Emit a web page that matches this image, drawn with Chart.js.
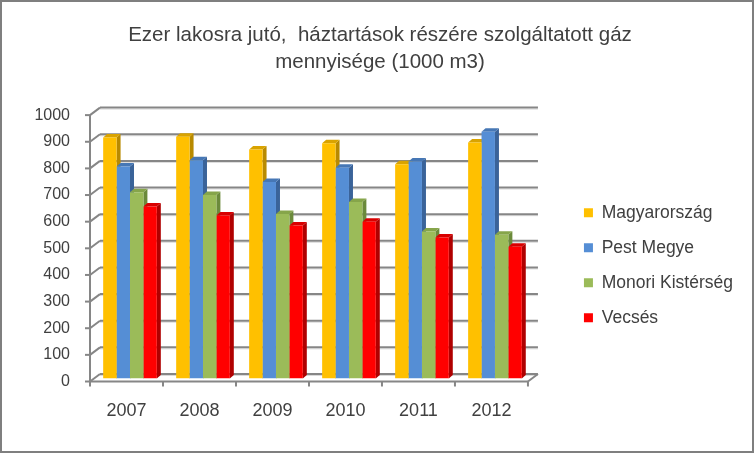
<!DOCTYPE html>
<html>
<head>
<meta charset="utf-8">
<script src="https://cdn.jsdelivr.net/npm/chart.js@4.4.0/dist/chart.umd.min.js"></script>
<style>
  body { margin: 0; background: #fff; }
  #box { width: 754px; height: 453px; box-sizing: border-box; border: 2px solid #7f7f7f; background: #fff; }
  canvas { display: block; }
</style>
</head>
<body>
<div id="box"><canvas id="gas" width="750" height="449"></canvas></div>
<script>
const years = ["2007", "2008", "2009", "2010", "2011", "2012"];
const magyarorszag = [905, 908, 860, 883, 804, 886];
const pestMegye = [796, 819, 738, 791, 815, 926];
const monoriKisterseg = [699, 689, 618, 663, 552, 540];
const vecses = [646, 612, 574, 588, 529, 495];
const seriesNames = ["Magyarország", "Pest Megye", "Monori Kistérség", "Vecsés"];

const frontColors = ["#ffc000", "#558ed5", "#9bbb59", "#ff0000"];
const sideColors = ["#b88a00", "#3a6399", "#6b8a3b", "#b00000"];
const topColors = ["#d9a300", "#4677b5", "#86a54a", "#d80000"];

const font = "'Liberation Sans', Arial, sans-serif";
const textColor = "#404040";
const lineColor = "#868686";

// 3d offsets: front plane (axes), back wall, bar depth
const FRONT_X = -3.5, FRONT_Y = 3;
const BACK_X = 6.5, BACK_Y = -4.5;
const DEPTH_X = 4, DEPTH_Y = 3.5;

function line(ctx, x1, y1, x2, y2) {
  ctx.beginPath();
  ctx.moveTo(x1, y1);
  ctx.lineTo(x2, y2);
  ctx.stroke();
}

function poly(ctx, pts, color) {
  ctx.beginPath();
  ctx.moveTo(pts[0][0], pts[0][1]);
  pts.slice(1).forEach(p => ctx.lineTo(p[0], p[1]));
  ctx.closePath();
  ctx.fillStyle = color;
  ctx.fill();
}

const walls3d = {
  id: "walls3d",
  beforeDatasetsDraw(chart) {
    const ctx = chart.ctx;
    const area = chart.chartArea;
    const y = chart.scales.y;
    const x = chart.scales.x;
    ctx.save();
    ctx.lineCap = "butt";

    const fLeft = area.left + FRONT_X;
    const fRight = area.right + FRONT_X;
    const bLeft = area.left + BACK_X;
    const bRight = area.right + BACK_X;

    // back wall grid lines, with light shadow
    y.ticks.forEach(t => {
      const py = y.getPixelForValue(t.value);
      ctx.strokeStyle = "#dadada";
      ctx.lineWidth = 1;
      line(ctx, bLeft, py + BACK_Y + 1.5, bRight, py + BACK_Y + 1.5);
      ctx.strokeStyle = lineColor;
      ctx.lineWidth = 2;
      line(ctx, bLeft, py + BACK_Y, bRight, py + BACK_Y);
      // diagonal from front axis to the back wall
      line(ctx, fLeft, py + FRONT_Y, bLeft, py + BACK_Y);
      // tick mark
      line(ctx, fLeft - 5, py + FRONT_Y, fLeft, py + FRONT_Y);
    });

    // front axes
    const y0 = y.getPixelForValue(0) + FRONT_Y;
    const yTop = y.getPixelForValue(y.max) + FRONT_Y;
    line(ctx, fLeft, yTop, fLeft, y0 + 1);
    line(ctx, fLeft, y0, fRight, y0);
    line(ctx, fRight, y0, bRight, y0 + BACK_Y - FRONT_Y);
    const catW = (x.right - x.left) / years.length;
    for (let i = 0; i <= years.length; i++) {
      const px = x.left + i * catW + FRONT_X;
      line(ctx, px, y0, px, y0 + 5);
    }

    // side and top faces of the bars
    chart.data.datasets.forEach((ds, i) => {
      chart.getDatasetMeta(i).data.forEach(bar => {
        const l = bar.x - bar.width / 2;
        const r = bar.x + bar.width / 2;
        const top = bar.y;
        const base = bar.base;
        poly(ctx, [[r, top], [r + DEPTH_X, top - DEPTH_Y], [r + DEPTH_X, base - DEPTH_Y], [r, base]], sideColors[i]);
        poly(ctx, [[l, top], [l + DEPTH_X, top - DEPTH_Y], [r + DEPTH_X, top - DEPTH_Y], [r, top]], topColors[i]);
      });
    });
    ctx.restore();
  }
};

const seriesValues = [magyarorszag, pestMegye, monoriKisterseg, vecses];

new Chart(document.getElementById("gas"), {
  type: "bar",
  data: {
    labels: years,
    datasets: seriesValues.map((vals, i) => ({
      label: seriesNames[i],
      data: vals,
      backgroundColor: frontColors[i],
      borderWidth: 0,
      categoryPercentage: 0.735,
      barPercentage: 1
    }))
  },
  options: {
    responsive: false,
    animation: false,
    layout: { padding: { left: 15, right: 9, top: 0, bottom: 32.5 } },
    plugins: {
      title: {
        display: true,
        text: ["Ezer lakosra jutó,  háztartások részére szolgáltatott gáz", "mennyisége (1000 m3)"],
        color: textColor,
        font: { family: font, size: 20.5, weight: "normal", lineHeight: 1.32 },
        padding: { top: 19.5, bottom: 36.5 }
      },
      legend: {
        position: "right",
        maxWidth: 300,
        // empty title only pushes the items down
        title: { display: true, text: "", font: { size: 10, lineHeight: 1 }, padding: { top: 100, bottom: 0 } },
        labels: {
          boxWidth: 9,
          boxHeight: 9,
          padding: 17.5,
          color: textColor,
          font: { family: font, size: 17.5 }
        }
      },
      tooltip: { enabled: false }
    },
    scales: {
      x: {
        grid: { display: false, drawTicks: false },
        border: { display: false },
        ticks: { padding: 21.7, labelOffset: -3.5, color: textColor, font: { family: font, size: 18 } },
        afterFit: s => { s.height = 40; }
      },
      y: {
        min: 0,
        max: 1000,
        grid: { display: false, drawTicks: false },
        border: { display: false },
        ticks: {
          stepSize: 100,
          padding: 23.5,
          labelOffset: 3,
          color: textColor,
          font: { family: font, size: 16 },
          callback: v => String(v)
        },
        afterFit: s => { s.width = 76.5; }
      },
      y2: {
        position: "right",
        display: true,
        grid: { display: false, drawTicks: false },
        border: { display: false },
        ticks: { display: false },
        afterFit: s => { s.width = 35; }
      }
    }
  },
  plugins: [walls3d]
});
</script>
</body>
</html>
